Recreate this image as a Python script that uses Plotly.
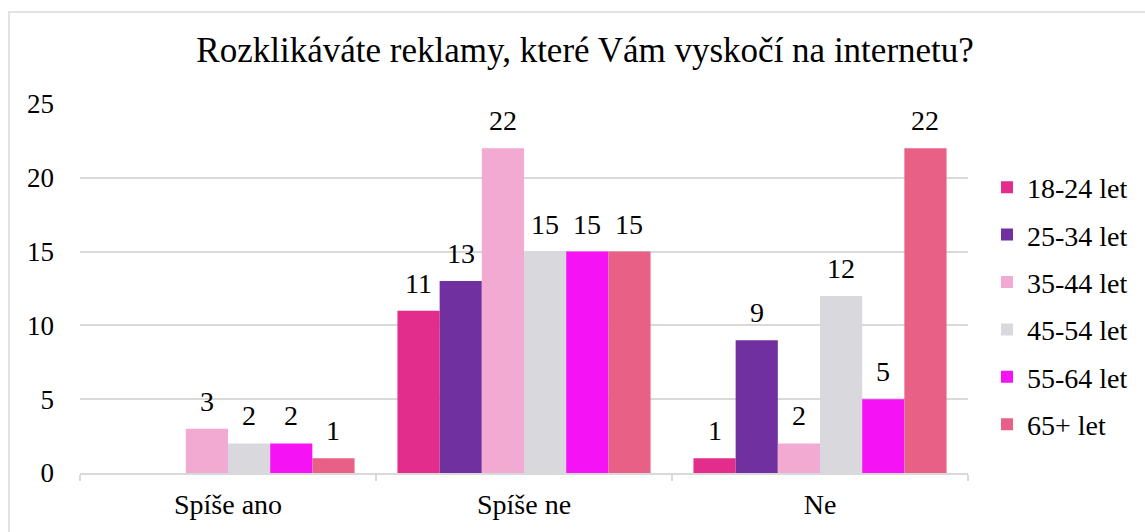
import plotly.graph_objects as go

categories = ["Spíše ano", "Spíše ne", "Ne"]
series_names = ["18-24 let", "25-34 let", "35-44 let", "45-54 let", "55-64 let", "65+ let"]
values_18_24 = [None, 11, 1]
values_25_34 = [None, 13, 9]
values_35_44 = [3, 22, 2]
values_45_54 = [2, 15, 12]
values_55_64 = [2, 15, 5]
values_65 = [1, 15, 22]
colors = ["#E22D8D", "#7030A0", "#F2A9D2", "#D9D9DD", "#F512F5", "#E86085"]
title_text = "Rozklikáváte reklamy, které Vám vyskočí na internetu?"

all_values = [values_18_24, values_25_34, values_35_44, values_45_54, values_55_64, values_65]

FONT = "Liberation Serif"
W, H = 1145, 532
ML, MR, MT, MB = 80, 177, 104, 59
BARGAP = 0.145
plot_w = W - ML - MR
plot_h = H - MT - MB
n_series = len(series_names)
bar_px = plot_w / len(categories) * (1 - BARGAP) / n_series

fig = go.Figure()
annotations = []
for i, (name, vals) in enumerate(zip(series_names, all_values)):
    fig.add_trace(go.Bar(
        x=categories, y=vals, name=name,
        marker=dict(color=colors[i], line=dict(width=0)),
        legendgroup=f"g{i}", hoverinfo="x+y+name",
    ))
    for cat, v in zip(categories, vals):
        if v is None:
            continue
        annotations.append(dict(
            x=cat, y=v, xref="x", yref="y", text=str(v), showarrow=False,
            xanchor="center", yanchor="bottom",
            xshift=(i - (n_series - 1) / 2) * bar_px, yshift=10,
            font=dict(family=FONT, size=28, color="#000000"),
        ))

fig.update_layout(
    width=W, height=H,
    margin=dict(l=ML, r=MR, t=MT, b=MB),
    paper_bgcolor="white", plot_bgcolor="white",
    barmode="group", bargap=BARGAP, bargroupgap=0,
    font=dict(family=FONT, size=27, color="#000000"),
    title=dict(text=title_text, x=0.511, xref="container", xanchor="center",
               y=1 - 50 / H, yref="container", yanchor="middle",
               font=dict(family=FONT, size=35, color="#000000")),
    legend=dict(xref="container", yref="container", x=987 / W, xanchor="left",
                y=1 - 306 / H, yanchor="middle", maxheight=450,
                font=dict(family=FONT, size=28), tracegroupgap=8,
                itemwidth=30, bgcolor="rgba(0,0,0,0)"),
    showlegend=True,
    annotations=annotations,
    shapes=[dict(type="rect", xref="paper", yref="paper",
                 x0=(9 - ML) / plot_w, x1=(1160 - ML) / plot_w,
                 y0=(H - MB - 560) / plot_h, y1=(H - MB - 12) / plot_h,
                 line=dict(color="#D9D9D9", width=1.5), fillcolor="rgba(0,0,0,0)", layer="below")],
)
fig.update_yaxes(range=[0, 25], dtick=5, showgrid=True, gridcolor="#D9D9D9", gridwidth=1.5,
                 zeroline=False, showline=False, ticks="", ticklabelstandoff=25,
                 tickfont=dict(family=FONT, size=27))
fig.update_xaxes(showline=True, linecolor="#D9D9D9", linewidth=1.5, ticks="outside",
                 tickson="boundaries", ticklen=6, tickcolor="#D9D9D9", tickwidth=1.5,
                 ticklabelstandoff=6, tickfont=dict(family=FONT, size=28))

fig.write_html("out.html", config={"displayModeBar": False},
               post_script="document.body.style.margin='0';document.body.style.overflow='hidden';")
